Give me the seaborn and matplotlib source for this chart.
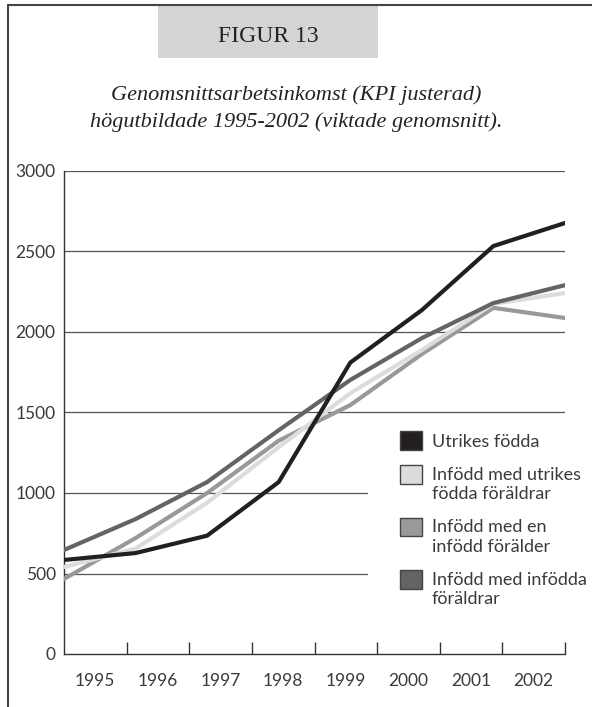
# Figur 13 - genomsnittlig arbetsinkomst, högutbildade 1995-2002
import pandas as pd
import matplotlib
matplotlib.use("Agg")
import matplotlib.pyplot as plt
from matplotlib.patches import Patch, Rectangle
from matplotlib.lines import Line2D
from matplotlib.legend_handler import HandlerPatch
import seaborn as sns

# data (avläst ur originalfiguren)
ar = ["1995", "1996", "1997", "1998", "1999", "2000", "2001", "2002"]
utrikes_fodda = [584, 627, 735, 1068, 1810, 2136, 2534, 2677]
infodd_utrikes_foraldrar = [540, 655, 940, 1285, 1620, 1888, 2175, 2242]
infodd_en_infodd = [466, 720, 1000, 1325, 1546, 1863, 2150, 2087]
infodd_infodda_foraldrar = [646, 838, 1068, 1390, 1702, 1962, 2180, 2291]

namn = ["Utrikes födda",
        "Infödd med utrikes\nfödda föräldrar",
        "Infödd med en\ninfödd förälder",
        "Infödd med infödda\nföräldrar"]
farger = ["#231f20", "#dcdcdc", "#999999", "#646464"]
serier = [utrikes_fodda, infodd_utrikes_foraldrar, infodd_en_infodd, infodd_infodda_foraldrar]

rader = []
for n, s in zip(namn, serier):
    for i, v in enumerate(s):
        rader.append({"grupp": n, "idx": i, "inkomst": v})
df = pd.DataFrame(rader)

sns.set_theme(style="white")
plt.rcParams["font.family"] = ["Lato", "DejaVu Sans"]

fig = plt.figure(figsize=(5.92, 7.07), dpi=100)
ax = fig.add_axes([64 / 592, 1 - 654 / 707, 501 / 592, 483 / 707])

# stödlinjer (de nedre döljs bakom förklaringen)
for y in [1500, 2000, 2500, 3000]:
    ax.axhline(y, color="#555555", lw=0.9, zorder=1)
for y in [500, 1000]:
    ax.axhline(y, xmax=303 / 501, color="#555555", lw=0.9, zorder=1)

# ritordning: ljusare under, svart överst
ordning = [2, 1, 3, 0]
for k in ordning:
    sns.lineplot(data=df[df["grupp"] == namn[k]], x="idx", y="inkomst",
                 color=farger[k], linewidth=3.0, ax=ax, legend=False,
                 zorder=3 + ordning.index(k))

n = len(ar)
ax.set_xlim(0, n - 1)
ax.set_ylim(0, 3000)
ax.set_yticks(range(0, 3001, 500))
ax.set_yticklabels([str(v) for v in range(0, 3001, 500)], fontsize=12.5,
                   color="#3a3a3a")
ax.tick_params(axis="y", length=0, pad=6)

steg = (n - 1) / n
ax.set_xticks([(i + 0.5) * steg for i in range(n)])
ax.set_xticklabels(ar, fontsize=12.5, color="#3a3a3a")
ax.set_xticks([(i + 1) * steg for i in range(n)], minor=True)
ax.tick_params(axis="x", which="major", length=0, pad=14)
ax.tick_params(axis="x", which="minor", direction="in", length=9, width=1,
               color="#333333", bottom=True)
ax.set_xlabel("")
ax.set_ylabel("")

sns.despine(ax=ax)
for s in ["left", "bottom"]:
    ax.spines[s].set_color("#333333")
    ax.spines[s].set_linewidth(1.0)


# förklaring: rutan ligger i höjd med första textraden
def ruta(lyft):
    def f(legend, orig_handle, xdescent, ydescent, width, height, fontsize):
        return Rectangle((-xdescent, -ydescent + lyft), width, height)
    return HandlerPatch(patch_func=f)


handtag = [Patch(facecolor=f, edgecolor="#444444", linewidth=1.0) for f in farger]
karta = {h: ruta(0 if "\n" not in t else 7.5) for h, t in zip(handtag, namn)}
leg = ax.legend(handtag, namn, loc="upper left", bbox_to_anchor=(0.653, 0.48),
                frameon=False, fontsize=13, handlelength=1.2, handleheight=1.2,
                handletextpad=0.55, labelspacing=0.95, borderpad=0,
                handler_map=karta)
for t in leg.get_texts():
    t.set_color("#3a3a3a")
    t.set_linespacing(1.25)

# rubrik
fig.add_artist(Rectangle((158 / 592, 1 - 58 / 707), 220 / 592, 53 / 707,
                         transform=fig.transFigure, facecolor="#d4d4d4",
                         edgecolor="none"))
fig.text(268 / 592, 1 - 37 / 707, "FIGUR 13", ha="center", va="center",
         fontsize=17, color="#222222", family="Liberation Serif")
fig.text(296 / 592, 1 - 95 / 707, "Genomsnittsarbetsinkomst (KPI justerad)",
         ha="center", va="center", fontsize=16, style="italic",
         color="#222222", family="Liberation Serif")
fig.text(296 / 592, 1 - 122 / 707, "högutbildade 1995-2002 (viktade genomsnitt).",
         ha="center", va="center", fontsize=16, style="italic",
         color="#222222", family="Liberation Serif")

# ram
fig.add_artist(Line2D([8 / 592, 8 / 592], [0, 1 - 5 / 707], transform=fig.transFigure,
                      color="#444444", lw=1.5))
fig.add_artist(Line2D([8 / 592, 1], [1 - 5 / 707, 1 - 5 / 707], transform=fig.transFigure,
                      color="#444444", lw=1.5))

fig.savefig("out.png", dpi=100)
